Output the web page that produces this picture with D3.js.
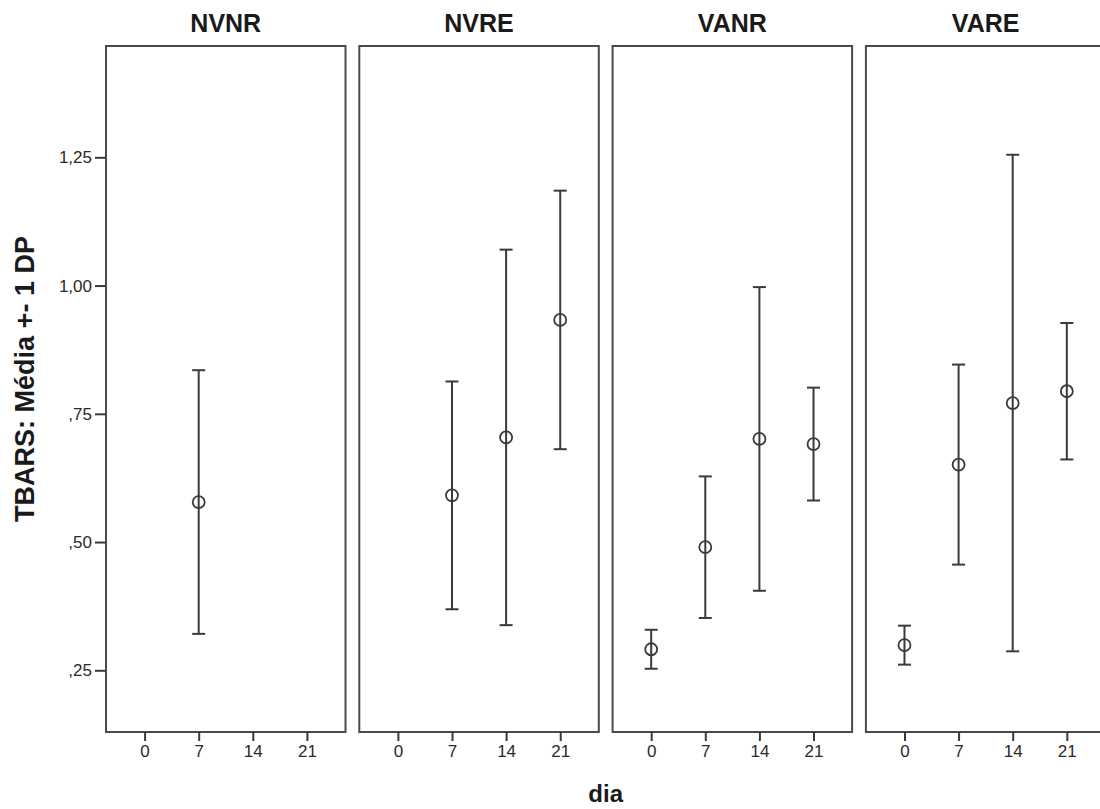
<!DOCTYPE html>
<html>
<head>
<meta charset="utf-8">
<script src="https://cdn.jsdelivr.net/npm/d3@7"></script>
<style>
  html, body { margin: 0; padding: 0; background: #fff; overflow: hidden; }
  svg { display: block; font-family: "Liberation Sans", Arial, sans-serif; }
</style>
</head>
<body>
<svg id="chart" width="1100" height="809"></svg>
<script>
// ---- data ----
const groups = ["NVNR", "NVRE", "VANR", "VARE"];
const days = ["0", "7", "14", "21"];
const yTicks = [0.25, 0.50, 0.75, 1.00, 1.25];
const yTickLabels = [",25", ",50", ",75", "1,00", "1,25"];

const meanNVNR = [null, 0.578, null, null];
const sdNVNR   = [null, 0.257, null, null];
const meanNVRE = [null, 0.591, 0.704, 0.933];
const sdNVRE   = [null, 0.222, 0.366, 0.252];
const meanVANR = [0.291, 0.490, 0.701, 0.691];
const sdVANR   = [0.038, 0.138, 0.296, 0.110];
const meanVARE = [0.299, 0.651, 0.771, 0.794];
const sdVARE   = [0.038, 0.195, 0.484, 0.133];

const yTitle = "TBARS: Média +- 1 DP";
const xTitle = "dia";

const groupMeans = { NVNR: meanNVNR, NVRE: meanNVRE, VANR: meanVANR, VARE: meanVARE };
const groupSDs   = { NVNR: sdNVNR,   NVRE: sdNVRE,   VANR: sdVANR,   VARE: sdVARE };

// ---- layout ----
const svg = d3.select("#chart");
const plotTop = 46, plotBottom = 732;
const panelW = 239.5, panelStep = 253.3, firstLeft = 106;
const ink = "#3a3a3a";

const y = d3.scaleLinear().domain([0.1297, 1.467]).range([plotBottom, plotTop]);
const x = d3.scalePoint().domain(days).range([0, panelW]).padding(0.713);

groups.forEach((g, gi) => {
  const left = firstLeft + gi * panelStep;
  const p = svg.append("g").attr("transform", `translate(${left},0)`);

  // frame
  p.append("rect")
    .attr("x", 0).attr("y", plotTop)
    .attr("width", panelW).attr("height", plotBottom - plotTop)
    .attr("fill", "none").attr("stroke", "#4a4a4a").attr("stroke-width", 2);

  // title
  p.append("text")
    .attr("x", panelW / 2).attr("y", 32)
    .attr("text-anchor", "middle")
    .attr("font-size", 25).attr("font-weight", "bold").attr("fill", "#1a1a1a")
    .text(g);

  // x axis
  const xa = p.append("g").attr("transform", `translate(0,${plotBottom})`)
    .call(d3.axisBottom(x).tickSize(9).tickPadding(4));
  xa.select(".domain").remove();
  xa.selectAll(".tick line").attr("stroke", ink).attr("stroke-width", 2);
  xa.selectAll(".tick text").attr("font-size", 17).attr("fill", "#2a2a2a")
    .attr("font-family", "'Liberation Sans', Arial, sans-serif");

  // y axis on first panel
  if (gi === 0) {
    const ya = p.append("g")
      .call(d3.axisLeft(y).tickValues(yTicks)
        .tickFormat((d, i) => yTickLabels[i]).tickSize(11).tickPadding(3));
    ya.select(".domain").remove();
    ya.selectAll(".tick line").attr("stroke", ink).attr("stroke-width", 2);
    ya.selectAll(".tick text").attr("font-size", 17).attr("fill", "#2a2a2a")
      .attr("font-family", "'Liberation Sans', Arial, sans-serif");
  }

  // error bars
  const means = groupMeans[g], sds = groupSDs[g];
  const pts = days.map((d, i) => ({ d, m: means[i], s: sds[i] })).filter(o => o.m != null);
  const capHalf = 6.5;
  const eb = p.selectAll("g.eb").data(pts).enter().append("g").attr("class", "eb");
  eb.append("line")
    .attr("x1", o => x(o.d)).attr("x2", o => x(o.d))
    .attr("y1", o => y(o.m + o.s)).attr("y2", o => y(o.m - o.s))
    .attr("stroke", ink).attr("stroke-width", 2);
  eb.append("line")
    .attr("x1", o => x(o.d) - capHalf).attr("x2", o => x(o.d) + capHalf)
    .attr("y1", o => y(o.m + o.s)).attr("y2", o => y(o.m + o.s))
    .attr("stroke", ink).attr("stroke-width", 2);
  eb.append("line")
    .attr("x1", o => x(o.d) - capHalf).attr("x2", o => x(o.d) + capHalf)
    .attr("y1", o => y(o.m - o.s)).attr("y2", o => y(o.m - o.s))
    .attr("stroke", ink).attr("stroke-width", 2);
  eb.append("circle")
    .attr("cx", o => x(o.d)).attr("cy", o => y(o.m)).attr("r", 6)
    .attr("fill", "none").attr("stroke", ink).attr("stroke-width", 1.8);
});

// axis titles
svg.append("text")
  .attr("transform", `translate(34,379) rotate(-90)`)
  .attr("text-anchor", "middle")
  .attr("font-size", 27).attr("font-weight", "bold").attr("fill", "#1a1a1a")
  .text(yTitle);

svg.append("text")
  .attr("x", firstLeft + (3 * panelStep + panelW) / 2).attr("y", 802)
  .attr("text-anchor", "middle")
  .attr("font-size", 24).attr("font-weight", "bold").attr("fill", "#1a1a1a")
  .text(xTitle);
</script>
</body>
</html>
